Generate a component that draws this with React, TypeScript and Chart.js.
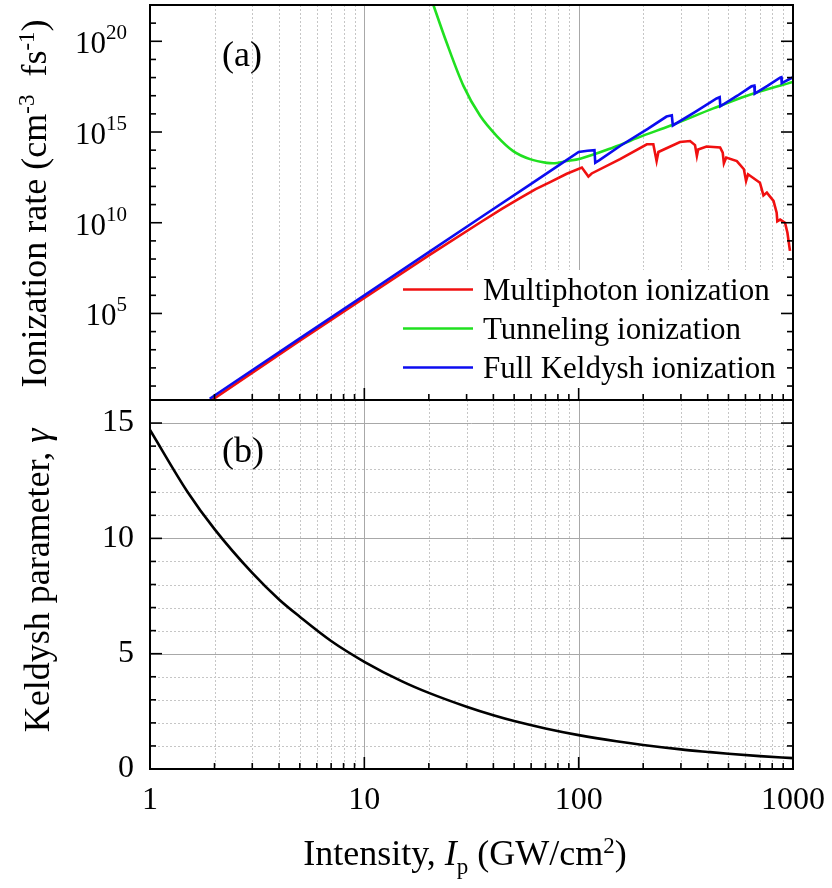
import React, { useEffect, useRef } from 'react';
import { Chart, registerables } from 'chart.js';

Chart.register(...registerables);

const SERIF = '"Liberation Serif", "Times New Roman", Times, serif';

// ---------- Panel (a): ionization rate (cm^-3 fs^-1) vs intensity (GW/cm^2)
const mpiIntensity = [1.9, 5, 10, 20, 35, 44, 53, 63, 74, 88, 103.5, 111, 115, 156, 208, 223, 231, 235.5, 297, 331, 349, 356, 361, 395, 457, 470, 476, 488, 547, 590, 604, 617, 701, 728, 755, 811, 839, 845, 871, 918, 942, 968];
const mpiRate = [1.4, 3.2e3, 7.1e5, 1.6e8, 1.1e10, 6.0e10, 2.2e11, 7.1e11, 1.8e12, 5.0e12, 1.1e13, 3.5e12, 5.2e12, 3.2e13, 2.1e14, 2.1e14, 2.5e13, 7.9e13, 2.8e14, 3.2e14, 1.9e14, 4.8e13, 1.1e14, 1.6e14, 1.4e14, 7.4e13, 1.9e13, 3.9e13, 2.5e13, 8.9e12, 2.0e12, 4.7e12, 1.6e12, 3.2e11, 4.6e11, 1.6e11, 3.6e10, 1.2e10, 1.5e10, 1.0e10, 2.8e9, 2.8e8];

const tunIntensity = [20.3, 21, 24.2, 29, 34.7, 41.5, 49.5, 59.3, 71, 76, 88, 101.6, 145, 200, 267, 425, 610, 1000];
const tunRate = [3.2e22, 1.0e22, 8.5e19, 3.5e17, 7.8e15, 6.0e14, 8.9e13, 3.2e13, 2.0e13, 1.9e13, 2.5e13, 3.4e13, 1.4e14, 6.3e14, 2.2e15, 2.0e16, 1.0e17, 5.8e17];

const fullIntensity = [1.9, 5, 10, 20, 35, 60, 85, 100, 110, 118.5, 119.5, 125, 156, 210, 257, 272, 275, 350, 440, 455, 458, 550, 640, 660, 663, 760, 870, 882, 886, 1000];
const fullRate = [2.0, 4.2e3, 1.0e6, 2.4e8, 2.0e10, 1.4e12, 2.2e13, 7.9e13, 9.3e13, 1.0e14, 2.0e13, 2.8e13, 1.7e14, 1.5e15, 7.1e15, 8.3e15, 2.3e15, 1.3e16, 7.1e16, 8.3e16, 2.6e16, 1.0e17, 3.3e17, 3.6e17, 1.3e17, 3.5e17, 1.0e18, 1.05e18, 5.0e17, 1.05e18];

// ---------- Panel (b): Keldysh parameter
const gammaIntensity = [1, 1.5, 2, 3, 4, 5, 7, 10, 15, 20, 30, 40, 50, 70, 100, 150, 200, 300, 400, 500, 700, 1000];
const gammaValue = [14.7, 12.0, 10.4, 8.5, 7.35, 6.6, 5.55, 4.65, 3.8, 3.3, 2.7, 2.33, 2.08, 1.76, 1.47, 1.2, 1.04, 0.85, 0.74, 0.66, 0.56, 0.47];

// ---------- Axis ticks
const xTickValues = [1, 10, 100, 1000];
const xMajorGrid = [10, 100];
const xMinorGrid = [2, 3, 4, 5, 6, 7, 8, 9, 20, 30, 40, 50, 60, 70, 80, 90, 200, 300, 400, 500, 600, 700, 800, 900];
const rateLabelExponents = [5, 10, 15, 20];
const rateTickExponents = [1, 2, 3, 4, 5, 6, 7, 8, 9, 10, 11, 12, 13, 14, 15, 16, 17, 18, 19, 20, 21];
const gammaTickValues = [0, 5, 10, 15];
const gammaMinorValues = [1, 2, 3, 4, 6, 7, 8, 9, 11, 12, 13, 14, 16];

const RED = '#f01010';
const GREEN = '#20e020';
const BLUE = '#0c0cf0';

const toXY = (xs: number[], ys: number[]) => xs.map((x, i) => ({ x, y: ys[i] }));

type Seg = { t: string; s?: 'sup' | 'sub' | 'it' };

function drawRich(ctx: CanvasRenderingContext2D, segs: Seg[], size: number, x: number, y: number, align: 'left' | 'center' | 'right') {
  const small = Math.round(size * 0.64);
  const fontFor = (g: Seg) =>
    g.s === 'sup' || g.s === 'sub' ? `${small}px ${SERIF}` : g.s === 'it' ? `italic ${size}px ${SERIF}` : `${size}px ${SERIF}`;
  const widths = segs.map((g) => {
    ctx.font = fontFor(g);
    return ctx.measureText(g.t).width;
  });
  const total = widths.reduce((p, c) => p + c, 0);
  let cx = align === 'center' ? x - total / 2 : align === 'right' ? x - total : x;
  ctx.textAlign = 'left';
  ctx.textBaseline = 'alphabetic';
  segs.forEach((g, i) => {
    ctx.font = fontFor(g);
    const dy = g.s === 'sup' ? -size * 0.34 : g.s === 'sub' ? size * 0.24 : 0;
    ctx.fillText(g.t, cx, y + dy);
    cx += widths[i];
  });
}

function line(ctx: CanvasRenderingContext2D, x1: number, y1: number, x2: number, y2: number) {
  ctx.beginPath();
  ctx.moveTo(x1, y1);
  ctx.lineTo(x2, y2);
  ctx.stroke();
}

function drawXGrid(chart: any) {
  const { ctx, chartArea: a, scales } = chart;
  const x = scales.x;
  ctx.save();
  ctx.lineWidth = 1;
  ctx.strokeStyle = '#c6c6c6';
  ctx.setLineDash([2, 2]);
  for (const v of xMinorGrid) {
    const p = Math.round(x.getPixelForValue(v)) + 0.5;
    line(ctx, p, a.top, p, a.bottom);
  }
  ctx.setLineDash([]);
  ctx.strokeStyle = '#a8a8a8';
  for (const v of xMajorGrid) {
    const p = Math.round(x.getPixelForValue(v)) + 0.5;
    line(ctx, p, a.top, p, a.bottom);
  }
  ctx.restore();
}

function drawXTicks(chart: any) {
  const { ctx, chartArea: a, scales } = chart;
  const x = scales.x;
  ctx.save();
  ctx.strokeStyle = '#000';
  ctx.lineWidth = 1.6;
  for (const v of xMinorGrid) {
    const p = x.getPixelForValue(v);
    line(ctx, p, a.bottom, p, a.bottom - 6);
  }
  for (const v of xMajorGrid) {
    const p = x.getPixelForValue(v);
    line(ctx, p, a.bottom, p, a.bottom - 12);
  }
  ctx.restore();
}

function drawFrame(chart: any) {
  const { ctx, chartArea: a } = chart;
  ctx.save();
  ctx.strokeStyle = '#000';
  ctx.lineWidth = 2;
  ctx.strokeRect(a.left, a.top, a.right - a.left, a.bottom - a.top);
  ctx.restore();
}

const panelAPlugin = {
  id: 'panelA',
  beforeDatasetsDraw(chart: any) {
    const { ctx, chartArea: a } = chart;
    drawXGrid(chart);
    // legend background
    ctx.save();
    ctx.fillStyle = '#ffffff';
    ctx.fillRect(a.left + 246, a.top + 265, 390, a.bottom - a.top - 265);
    ctx.restore();
  },
  afterDatasetsDraw(chart: any) {
    const { ctx, chartArea: a, scales } = chart;
    const y = scales.y;
    drawXTicks(chart);
    ctx.save();
    ctx.strokeStyle = '#000';
    ctx.lineWidth = 1.6;
    for (const e of rateTickExponents) {
      const p = y.getPixelForValue(Math.pow(10, e));
      if (p < a.top || p > a.bottom) continue;
      const len = e % 5 === 0 ? 12 : 6;
      line(ctx, a.left, p, a.left + len, p);
      line(ctx, a.right, p, a.right - len, p);
    }
    ctx.restore();
    drawFrame(chart);

    ctx.save();
    ctx.fillStyle = '#000';
    // y tick labels 10^n
    for (const e of rateLabelExponents) {
      const p = y.getPixelForValue(Math.pow(10, e));
      ctx.font = `21px ${SERIF}`;
      const wSup = ctx.measureText(String(e)).width;
      ctx.font = `31px ${SERIF}`;
      const wBase = ctx.measureText('10').width;
      const right = a.left - 23;
      ctx.textAlign = 'left';
      ctx.textBaseline = 'alphabetic';
      ctx.fillText('10', right - wSup - wBase, p + 12);
      ctx.font = `21px ${SERIF}`;
      ctx.fillText(String(e), right - wSup, p - 2);
    }
    // y title
    ctx.save();
    ctx.translate(46, (a.top + a.bottom) / 2 + 1);
    ctx.rotate(-Math.PI / 2);
    drawRich(ctx, [{ t: 'Ionization rate (cm' }, { t: '-3', s: 'sup' }, { t: '  fs' }, { t: '-1', s: 'sup' }, { t: ')' }], 36, 0, 0, 'center');
    ctx.restore();
    // panel label
    ctx.font = `36px ${SERIF}`;
    ctx.textAlign = 'left';
    ctx.textBaseline = 'alphabetic';
    ctx.fillText('(a)', 222, 66);

    // legend
    const rows = [284.5, 323.5, 362.5];
    chart.data.datasets.forEach((ds: any, i: number) => {
      const ry = a.top + rows[i];
      ctx.strokeStyle = ds.borderColor;
      ctx.lineWidth = 2.6;
      line(ctx, a.left + 253, ry, a.left + 323, ry);
      ctx.fillStyle = '#000';
      ctx.font = `31px ${SERIF}`;
      ctx.fillText(ds.label, a.left + 333, ry + 10.5);
    });
    ctx.restore();
  },
};

const panelBPlugin = {
  id: 'panelB',
  beforeDatasetsDraw(chart: any) {
    const { ctx, chartArea: a, scales } = chart;
    const y = scales.y;
    drawXGrid(chart);
    ctx.save();
    ctx.lineWidth = 1;
    ctx.strokeStyle = '#c6c6c6';
    ctx.setLineDash([2, 2]);
    for (const v of gammaMinorValues) {
      const p = Math.round(y.getPixelForValue(v)) + 0.5;
      if (p <= a.top + 1) continue;
      line(ctx, a.left, p, a.right, p);
    }
    ctx.setLineDash([]);
    ctx.strokeStyle = '#a8a8a8';
    for (const v of gammaTickValues) {
      if (v === 0) continue;
      const p = Math.round(y.getPixelForValue(v)) + 0.5;
      line(ctx, a.left, p, a.right, p);
    }
    ctx.restore();
  },
  afterDatasetsDraw(chart: any) {
    const { ctx, chartArea: a, scales } = chart;
    const y = scales.y;
    drawXTicks(chart);
    ctx.save();
    ctx.strokeStyle = '#000';
    ctx.lineWidth = 1.6;
    for (let v = 1; v <= 15; v++) {
      const p = y.getPixelForValue(v);
      const len = v % 5 === 0 ? 12 : 6;
      line(ctx, a.left, p, a.left + len, p);
      line(ctx, a.right, p, a.right - len, p);
    }
    ctx.restore();
    drawFrame(chart);

    ctx.save();
    ctx.fillStyle = '#000';
    // y title
    ctx.save();
    ctx.translate(49, (a.top + a.bottom) / 2 - 4);
    ctx.rotate(-Math.PI / 2);
    drawRich(ctx, [{ t: 'Keldysh parameter, ' }, { t: 'γ', s: 'it' }], 36, 0, 0, 'center');
    ctx.restore();
    // x title
    drawRich(ctx, [{ t: 'Intensity, ' }, { t: 'I', s: 'it' }, { t: 'p', s: 'sub' }, { t: ' (GW/cm' }, { t: '2', s: 'sup' }, { t: ')' }], 36, 465, 469, 'center');
    // panel label
    ctx.font = `36px ${SERIF}`;
    ctx.textAlign = 'left';
    ctx.textBaseline = 'alphabetic';
    ctx.fillText('(b)', 222, 66);
    ctx.restore();
  },
};

export default function App() {
  const refA = useRef<HTMLCanvasElement>(null);
  const refB = useRef<HTMLCanvasElement>(null);

  useEffect(() => {
    const common = {
      responsive: false,
      animation: false as const,
      devicePixelRatio: 1,
      events: [] as any[],
    };
    const chartA = new Chart(refA.current as HTMLCanvasElement, {
      type: 'line',
      data: {
        datasets: [
          { label: 'Multiphoton ionization', data: toXY(mpiIntensity, mpiRate), borderColor: RED, borderWidth: 2.6, pointRadius: 0, tension: 0, order: 1 },
          { label: 'Tunneling ionization', data: toXY(tunIntensity, tunRate), borderColor: GREEN, borderWidth: 2.6, pointRadius: 0, cubicInterpolationMode: 'monotone', order: 2 },
          { label: 'Full Keldysh ionization', data: toXY(fullIntensity, fullRate), borderColor: BLUE, borderWidth: 2.6, pointRadius: 0, tension: 0, order: 0 },
        ],
      },
      options: {
        ...common,
        layout: { padding: { left: 150, right: 39, top: 5, bottom: 4 } },
        plugins: { legend: { display: false }, tooltip: { enabled: false } },
        scales: {
          x: { type: 'logarithmic', min: 1, max: 1000, display: false },
          y: { type: 'logarithmic', min: 1.7, max: 1e22, display: false },
        },
      },
      plugins: [panelAPlugin],
    } as any);

    const tickFont = { family: SERIF, size: 32 };
    const chartB = new Chart(refB.current as HTMLCanvasElement, {
      type: 'line',
      data: {
        datasets: [
          { label: 'Keldysh parameter', data: toXY(gammaIntensity, gammaValue), borderColor: '#000', borderWidth: 2.6, pointRadius: 0, cubicInterpolationMode: 'monotone' },
        ],
      },
      options: {
        ...common,
        layout: { padding: { left: 0, right: 39, top: 4, bottom: 0 } },
        plugins: { legend: { display: false }, tooltip: { enabled: false } },
        scales: {
          x: {
            type: 'logarithmic',
            min: 1,
            max: 1000,
            position: 'bottom',
            grid: { display: false, drawTicks: false },
            border: { display: false },
            ticks: { font: tickFont, color: '#000', padding: 12, maxRotation: 0, autoSkip: false, callback: (v: any) => String(v) },
            afterBuildTicks: (s: any) => {
              s.ticks = xTickValues.map((v) => ({ value: v }));
            },
            afterFit: (s: any) => {
              s.height = 119;
              s.paddingLeft = 0;
              s.paddingRight = 0;
            },
          },
          y: {
            type: 'linear',
            min: 0,
            max: 16,
            position: 'left',
            grid: { display: false, drawTicks: false },
            border: { display: false },
            ticks: { font: tickFont, color: '#000', padding: 16, callback: (v: any) => String(v) },
            afterBuildTicks: (s: any) => {
              s.ticks = gammaTickValues.map((v) => ({ value: v }));
            },
            afterFit: (s: any) => {
              s.width = 150;
              s.paddingTop = 0;
              s.paddingBottom = 0;
            },
          },
        },
      },
      plugins: [panelBPlugin],
    } as any);

    return () => {
      chartA.destroy();
      chartB.destroy();
    };
  }, []);

  return (
    <div style={{ position: 'fixed', left: 0, top: 0, width: 832, height: 888, background: '#fff' }}>
      <canvas ref={refA} width={832} height={404} style={{ position: 'absolute', left: 0, top: 0, width: 832, height: 404 }} />
      <canvas ref={refB} width={832} height={492} style={{ position: 'absolute', left: 0, top: 396, width: 832, height: 492 }} />
    </div>
  );
}
